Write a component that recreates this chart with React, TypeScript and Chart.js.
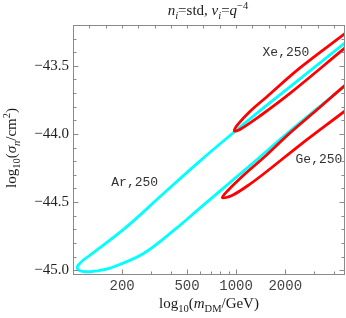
import React, { useEffect, useRef } from "react";
import { Chart, registerables } from "chart.js";

Chart.register(...registerables);

// ---- data ----
// Ar,250 contour (cyan): upper branch from right edge to tip, then lower branch back to right edge
const arMass = [5130, 4649, 2137, 1459, 1006, 599, 341, 213, 132.2, 116.4, 107.7, 106.2, 110, 119.8, 136, 168.1, 269, 431, 599, 1215, 2137, 4649, 5130];
const arLogSigma = [-43.29, -43.331, -43.654, -43.8125, -43.971, -44.199, -44.461, -44.682, -44.875, -44.923, -44.963, -44.985, -45.004, -45.011, -45.007, -44.985, -44.879, -44.691, -44.544, -44.232, -43.978, -43.647, -43.607];

// Xe,250 contour (red)
const xeMass = [5130, 4714, 2462, 1538, 1215, 1025, 975.7, 1055, 1399, 2137, 4649, 5130];
const xeLogSigma = [-43.221, -43.257, -43.515, -43.728, -43.835, -43.93, -43.978, -43.967, -43.868, -43.702, -43.368, -43.327];

// Ge,250 contour (red)
const geMass = [5130, 4649, 3117, 2137, 1538, 1132, 890, 823, 942, 1215, 1611, 2462, 4649, 5130];
const geLogSigma = [-43.603, -43.643, -43.824, -43.993, -44.154, -44.294, -44.415, -44.467, -44.452, -44.368, -44.257, -44.081, -43.831, -43.79];

// contour labels
const labelTexts = ["Ar,250", "Xe,250", "Ge,250"];
const labelMass = [239, 2020, 3220];
const labelLogSigma = [-44.36, -43.401, -44.1875];

// ticks
const xTicks = [200, 500, 1000, 2000];
const xMinorTicks = [300, 400, 600, 700, 800, 900, 3000, 4000];
const topTickExponents = [2.1, 2.2, 2.3, 2.4, 2.5, 2.6, 2.7, 2.8, 2.9, 3.0, 3.1, 3.2, 3.3, 3.4, 3.5, 3.6];
const yTicks = [-45.0, -44.5, -44.0, -43.5];
const yMinorTicks = [-44.9, -44.8, -44.7, -44.6, -44.4, -44.3, -44.2, -44.1, -43.9, -43.8, -43.7, -43.6, -43.4, -43.3];

const X_MIN = 100;
const X_MAX = 4650;
const Y_MIN = -45.035;
const Y_MAX = -43.2;

const SERIF = '"Liberation Serif", "Times New Roman", "DejaVu Serif", serif';
const MONO = '"Liberation Mono", "Courier New", monospace';

type Seg = { t: string; it?: boolean; sub?: boolean; sup?: boolean };

const titleSegs: Seg[] = [
  { t: "n", it: true }, { t: "i", it: true, sub: true }, { t: "=std, " },
  { t: "ν", it: true }, { t: "i", it: true, sub: true }, { t: "=" },
  { t: "q", it: true }, { t: "−4", sup: true },
];
const xTitleSegs: Seg[] = [
  { t: "log" }, { t: "10", sub: true }, { t: "(" }, { t: "m", it: true },
  { t: "DM", sub: true }, { t: "/GeV)" },
];
const yTitleSegs: Seg[] = [
  { t: "log" }, { t: "10", sub: true }, { t: "(" }, { t: "σ", it: true },
  { t: "n", it: true, sub: true }, { t: "/cm" }, { t: "2", sup: true }, { t: ")" },
];

function segFont(s: Seg, size: number) {
  const sz = s.sub || s.sup ? size * 0.7 : size;
  return `${s.it ? "italic " : ""}${sz}px ${SERIF}`;
}

function drawRich(ctx: CanvasRenderingContext2D, segs: Seg[], cx: number, baseline: number, size: number) {
  const widths = segs.map((s) => {
    ctx.font = segFont(s, size);
    return ctx.measureText(s.t).width;
  });
  const total = widths.reduce((a, b) => a + b, 0);
  let x = cx - total / 2;
  ctx.textAlign = "left";
  ctx.textBaseline = "alphabetic";
  segs.forEach((s, i) => {
    ctx.font = segFont(s, size);
    const dy = s.sub ? size * 0.28 : s.sup ? -size * 0.4 : 0;
    ctx.fillText(s.t, x, baseline + dy);
    x += widths[i];
  });
}

const framePlugin = {
  id: "mmaFrame",
  afterDatasetsDraw(chart: any) {
    const { ctx, chartArea: a, scales } = chart;
    const xs = scales.x;
    const ys = scales.y;
    ctx.save();
    ctx.strokeStyle = "#8a8a8a";
    ctx.lineWidth = 1;
    ctx.strokeRect(a.left + 0.5, a.top + 0.5, a.right - a.left - 1, a.bottom - a.top - 1);

    ctx.beginPath();
    const px = (v: number) => Math.round(xs.getPixelForValue(v)) + 0.5;
    const py = (v: number) => Math.round(ys.getPixelForValue(v)) + 0.5;
    const L = a.left + 0.5, R = a.right - 0.5, T = a.top + 0.5, B = a.bottom - 0.5;
    xTicks.forEach((v) => { const x = px(v); ctx.moveTo(x, B); ctx.lineTo(x, B - 5); });
    xMinorTicks.forEach((v) => { const x = px(v); ctx.moveTo(x, B); ctx.lineTo(x, B - 3); });
    topTickExponents.forEach((e) => { const x = px(Math.pow(10, e)); ctx.moveTo(x, T); ctx.lineTo(x, T + 3); });
    yTicks.forEach((v) => {
      const y = py(v);
      ctx.moveTo(L, y); ctx.lineTo(L + 5, y);
      ctx.moveTo(R, y); ctx.lineTo(R - 5, y);
    });
    yMinorTicks.forEach((v) => {
      const y = py(v);
      ctx.moveTo(L, y); ctx.lineTo(L + 3, y);
      ctx.moveTo(R, y); ctx.lineTo(R - 3, y);
    });
    ctx.stroke();

    // contour labels
    ctx.fillStyle = "#333";
    ctx.font = `13px ${MONO}`;
    ctx.textAlign = "center";
    ctx.textBaseline = "middle";
    labelTexts.forEach((t, i) => {
      ctx.fillText(t, xs.getPixelForValue(labelMass[i]), ys.getPixelForValue(labelLogSigma[i]));
    });

    // titles
    ctx.fillStyle = "#1a1a1a";
    const cx = (a.left + a.right) / 2;
    drawRich(ctx, titleSegs, cx - 1, 15, 15);
    drawRich(ctx, xTitleSegs, cx, 308, 15);
    ctx.save();
    ctx.translate(16, 148);
    ctx.rotate(-Math.PI / 2);
    drawRich(ctx, yTitleSegs, 0, 0, 15);
    ctx.restore();

    ctx.restore();
  },
};

function pts(xs: number[], ys: number[]) {
  return xs.map((x, i) => ({ x, y: ys[i] }));
}

export default function App() {
  const ref = useRef<HTMLCanvasElement>(null);
  useEffect(() => {
    const lineDs = (label: string, data: any[], color: string) => ({
      label,
      data,
      showLine: true,
      borderColor: color,
      backgroundColor: color,
      borderWidth: 2.8,
      pointRadius: 0,
      pointHoverRadius: 0,
      tension: 0.35,
      fill: false,
    });
    const chart = new Chart(ref.current as HTMLCanvasElement, {
      type: "scatter",
      data: {
        datasets: [
          lineDs("Xe,250", pts(xeMass, xeLogSigma), "#ff0000"),
          lineDs("Ge,250", pts(geMass, geLogSigma), "#ff0000"),
          lineDs("Ar,250", pts(arMass, arLogSigma), "#00ffff"),
        ],
      },
      options: {
        animation: false,
        responsive: false,
        maintainAspectRatio: false,
        events: [],
        layout: { padding: { top: 25, right: 1, left: 0, bottom: 0 } },
        plugins: {
          legend: { display: false },
          tooltip: { enabled: false },
          title: { display: false },
        },
        scales: {
          x: {
            type: "logarithmic",
            min: X_MIN,
            max: X_MAX,
            grid: { display: false, drawTicks: false },
            border: { display: false },
            afterBuildTicks: (s: any) => {
              s.ticks = xTicks.map((v) => ({ value: v }));
            },
            afterFit: (s: any) => {
              s.height = 43;
            },
            ticks: {
              autoSkip: false,
              maxRotation: 0,
              minRotation: 0,
              padding: 3,
              color: "#444",
              font: { family: MONO, size: 14 },
              callback: (v: any) => String(v),
            },
          },
          y: {
            type: "linear",
            min: Y_MIN,
            max: Y_MAX,
            grid: { display: false, drawTicks: false },
            border: { display: false },
            afterBuildTicks: (s: any) => {
              s.ticks = yTicks.map((v) => ({ value: v }));
            },
            afterFit: (s: any) => {
              s.width = 73;
            },
            ticks: {
              autoSkip: false,
              padding: 4,
              color: "#222",
              font: { family: SERIF, size: 15 },
              callback: (v: any) => (Number(v) < 0 ? "−" : "") + Math.abs(Number(v)).toFixed(1),
            },
          },
        },
      },
      plugins: [framePlugin],
    } as any);
    return () => chart.destroy();
  }, []);
  return (
    <div style={{ position: "absolute", left: 0, top: 0, width: 346, height: 318, background: "#fff" }}>
      <canvas ref={ref} width={346} height={318} style={{ display: "block", width: 346, height: 318 }} />
    </div>
  );
}
